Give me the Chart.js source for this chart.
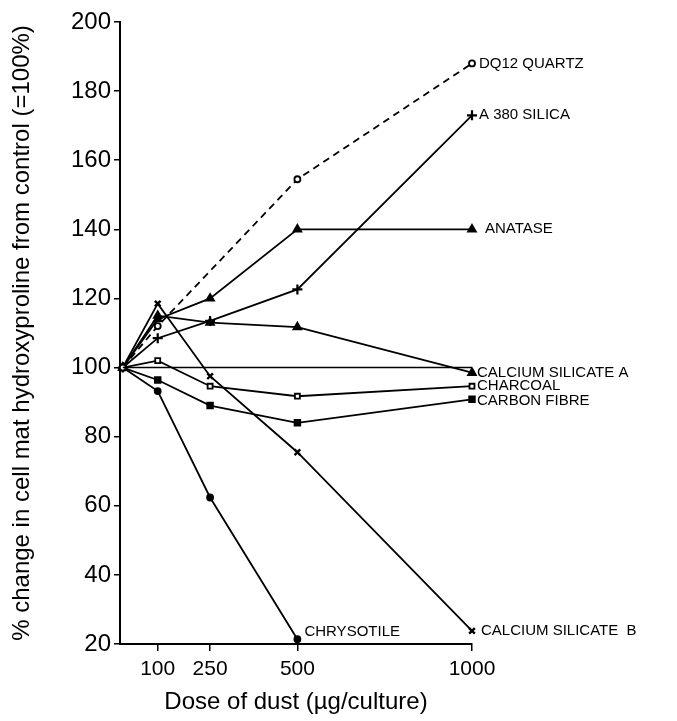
<!DOCTYPE html>
<html>
<head>
<meta charset="utf-8">
<script src="https://cdn.jsdelivr.net/npm/chart.js@4"></script>
<style>
  html, body { margin: 0; padding: 0; background: #fff; }
  #wrap { width: 677px; height: 721px; }
</style>
</head>
<body>
<div id="wrap"><canvas id="doseChart" width="677" height="721"></canvas></div>
<script>
// dose (µg/culture) and % of control for each dust
const doses = [0, 100, 250, 500, 1000];
const quartzDQ12 = [100, 112, null, 154.5, 188];
const silicaA380 = [100, 108.5, 113.5, 122.6, 173];
const anatase = [100, 114, 120, 140, 140];
const calciumSilicateA = [100, 115, 113, 111.7, 98.5];
const charcoal = [100, 102, 94.6, 91.7, 94.6];
const carbonFibre = [100, 96.4, 89, 84, 90.8];
const chrysotile = [100, 93.2, 62.4, 21.4, null];
const calciumSilicateB = [100, 118.5, 97.5, 75.5, 23.8];
const controlLine = [100, null, null, null, 100];

const yTicks = [20, 40, 60, 80, 100, 120, 140, 160, 180, 200];
const xTicks = [100, 250, 500, 1000];

const FONT = '"Liberation Sans", Arial, sans-serif';

function toPoints(values) {
    return doses.map((d, i) => ({ x: d, y: values[i] })).filter(p => p.y !== null);
}

function series(label, values, style, opts) {
    return Object.assign({
        label: label,
        data: toPoints(values),
        borderColor: '#000',
        backgroundColor: '#000',
        borderWidth: 1.8,
        pointStyle: style,
        pointRadius: 3.5,
        pointBorderWidth: 1.8,
        pointBorderColor: '#000',
        clip: false,
        tension: 0
    }, opts || {});
}

const datasets = [
    series('CONTROL', controlLine, false, { pointRadius: 0, borderWidth: 1.5 }),
    series('DQ12 QUARTZ', quartzDQ12, 'circle', { borderDash: [7, 5], backgroundColor: '#fff', pointRadius: 3 }),
    series('A 380 SILICA', silicaA380, 'cross', { pointRadius: 5, pointBorderWidth: 2.2 }),
    series('ANATASE', anatase, 'triangle', { pointRadius: 4.5, labelGap: 13 }),
    series('CALCIUM SILICATE A', calciumSilicateA, 'triangle', { pointRadius: 4.5, labelGap: 5 }),
    series('CHARCOAL', charcoal, 'rect', { backgroundColor: '#fff', pointRadius: 3.5, labelGap: 5 }),
    series('CARBON FIBRE', carbonFibre, 'rect', { pointRadius: 4, labelGap: 5, labelDy: 2 }),
    series('CHRYSOTILE', chrysotile, 'circle', { pointRadius: 3, labelDy: -7 }),
    series('CALCIUM SILICATE  B', calciumSilicateB, 'crossRot', { pointRadius: 4, pointBorderWidth: 2.4, labelGap: 9 })
];

// draws the dust names next to the last point of each line
const endLabels = {
    id: 'endLabels',
    afterDatasetsDraw(chart) {
        const ctx = chart.ctx;
        ctx.save();
        ctx.fillStyle = '#000';
        ctx.font = '15px ' + FONT;
        ctx.textBaseline = 'middle';
        ctx.textAlign = 'left';
        chart.data.datasets.forEach((ds, i) => {
            if (ds.label === 'CONTROL') return;
            const meta = chart.getDatasetMeta(i);
            const last = meta.data[meta.data.length - 1];
            ctx.fillText(ds.label, last.x + (ds.labelGap || 7), last.y + (ds.labelDy || 0));
        });
        ctx.restore();
    }
};

const ctx = document.getElementById('doseChart').getContext('2d');
const chart = new Chart(ctx, {
    type: 'line',
    data: { datasets: datasets },
    plugins: [endLabels],
    options: {
        responsive: false,
        animation: false,
        layout: { padding: { top: 22, right: 205, left: 0, bottom: 0 } },
        plugins: {
            legend: { display: false },
            tooltip: { enabled: false }
        },
        scales: {
            x: {
                type: 'linear',
                min: -8,
                max: 1000,
                afterBuildTicks: function (scale) {
                    scale.ticks = xTicks.map(v => ({ value: v }));
                },
                afterFit: function (scale) { scale.height = 77; },
                border: { color: '#000', width: 2 },
                grid: { drawOnChartArea: false, color: '#000', lineWidth: 1.5, tickLength: 7 },
                ticks: {
                    color: '#000',
                    padding: 6,
                    maxRotation: 0,
                    callback: v => String(v),
                    font: { family: FONT, size: 21 }
                },
                title: {
                    display: true,
                    text: 'Dose of dust (µg/culture)',
                    color: '#000',
                    padding: { top: 8 },
                    font: { family: FONT, size: 24 }
                }
            },
            y: {
                min: 20,
                max: 200,
                afterBuildTicks: function (scale) {
                    scale.ticks = yTicks.map(v => ({ value: v }));
                },
                afterFit: function (scale) { scale.width = 120; },
                border: { color: '#000', width: 2 },
                grid: { drawOnChartArea: false, color: '#000', lineWidth: 1.5, tickLength: 6 },
                ticks: {
                    color: '#000',
                    padding: 3,
                    font: { family: FONT, size: 24 }
                },
                title: {
                    display: true,
                    text: '% change in cell mat hydroxyproline from control (=100%)',
                    color: '#000',
                    padding: { top: 8, bottom: 4 },
                    font: { family: FONT, size: 24 }
                }
            }
        }
    }
});
</script>
</body>
</html>
